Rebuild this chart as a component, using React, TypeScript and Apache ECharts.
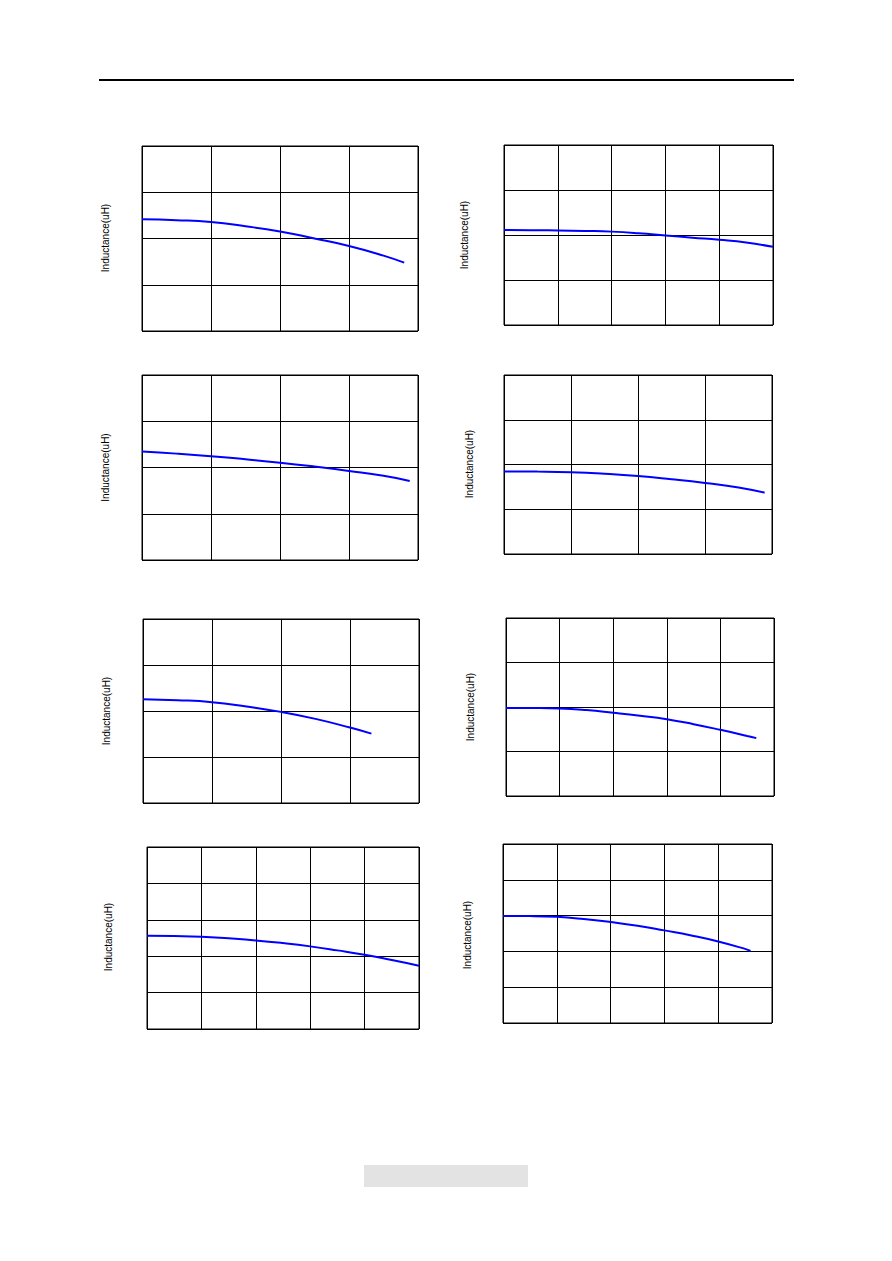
import React, { useEffect, useRef } from "react";
import * as echarts from "echarts";

// Each chart: x positions (in grid-column units) and inductance readings (in grid-row units)
const current1 = [0, 0.5, 1, 1.5, 2, 2.5, 3, 3.5, 3.8];
const induct1 = [2.415, 2.395, 2.355, 2.265, 2.152, 2.0, 1.838, 1.63, 1.477];

const current2 = [0, 0.5, 1, 1.5, 2, 2.5, 3, 3.5, 4, 4.5, 5];
const induct2 = [2.11, 2.108, 2.1, 2.09, 2.075, 2.04, 1.99, 1.94, 1.893, 1.833, 1.737];

const current3 = [0, 0.5, 1, 1.5, 2, 2.5, 3, 3.5, 3.88];
const induct3 = [2.344, 2.3, 2.245, 2.178, 2.105, 2.02, 1.925, 1.82, 1.71];

const current4 = [0, 0.5, 1, 1.5, 2, 2.5, 3, 3.5, 3.89];
const induct4 = [1.846, 1.842, 1.828, 1.794, 1.743, 1.67, 1.587, 1.488, 1.37];

const current5 = [0, 0.5, 1, 1.5, 2, 2.5, 3, 3.31];
const induct5 = [2.258, 2.236, 2.192, 2.097, 1.981, 1.829, 1.64, 1.509];

const current6 = [0, 0.5, 1, 1.5, 2, 2.5, 3, 3.5, 4, 4.5, 4.67];
const induct6 = [1.98, 1.978, 1.968, 1.932, 1.872, 1.805, 1.726, 1.614, 1.487, 1.35, 1.3];

const current7 = [0, 0.5, 1, 1.5, 2, 2.5, 3, 3.5, 4, 4.5, 5];
const induct7 = [2.563, 2.555, 2.536, 2.49, 2.434, 2.36, 2.27, 2.16, 2.04, 1.895, 1.74];

const current8 = [0, 0.5, 1, 1.5, 2, 2.5, 3, 3.5, 4, 4.5, 4.6];
const induct8 = [2.989, 2.986, 2.965, 2.905, 2.821, 2.718, 2.587, 2.447, 2.279, 2.07, 2.011];

const axisTitle = "Inductance(uH)";

const panels = [
  { xs: current1, ys: induct1, cols: 4, rows: 4, box: [142, 146, 276, 185], label: [105.5, 238] },
  { xs: current2, ys: induct2, cols: 5, rows: 4, box: [504, 145, 269, 180], label: [464, 235] },
  { xs: current3, ys: induct3, cols: 4, rows: 4, box: [142, 375, 276, 185], label: [105.5, 467.5] },
  { xs: current4, ys: induct4, cols: 4, rows: 4, box: [504, 375, 268, 179], label: [469, 464] },
  { xs: current5, ys: induct5, cols: 4, rows: 4, box: [143, 619, 276, 184], label: [106.3, 711] },
  { xs: current6, ys: induct6, cols: 5, rows: 4, box: [506, 618, 268, 178], label: [470.3, 707] },
  { xs: current7, ys: induct7, cols: 5, rows: 5, box: [147, 847, 272, 182], label: [108.8, 937] },
  { xs: current8, ys: induct8, cols: 5, rows: 5, box: [503, 844, 269, 179], label: [467.3, 935] },
];

export default function App() {
  const ref = useRef<HTMLDivElement>(null);
  useEffect(() => {
    if (!ref.current) return;
    const chart = echarts.init(ref.current, null, { renderer: "svg" });
    const grids: any[] = [];
    const xAxes: any[] = [];
    const yAxes: any[] = [];
    const series: any[] = [];
    const graphics: any[] = [];
    panels.forEach((p, i) => {
      const [l, t, w, h] = p.box;
      grids.push({ left: l, top: t, width: w, height: h, show: true, borderColor: "#000", borderWidth: 1, backgroundColor: "transparent" });
      const ax = {
        axisLine: { show: false },
        axisTick: { show: false },
        axisLabel: { show: false },
        splitLine: { show: true, lineStyle: { color: "#000", width: 1 } },
      };
      xAxes.push({ type: "value", gridIndex: i, min: 0, max: p.cols, interval: 1, ...ax });
      yAxes.push({ type: "value", gridIndex: i, min: 0, max: p.rows, interval: 1, ...ax });
      series.push({
        type: "line",
        xAxisIndex: i,
        yAxisIndex: i,
        data: p.xs.map((x, k) => [x, p.ys[k]]),
        smooth: 0.5,
        showSymbol: false,
        lineStyle: { color: "#0000ff", width: 2 },
        z: 5,
      });
      graphics.push({
        type: "text",
        x: p.label[0],
        y: p.label[1],
        rotation: Math.PI / 2,
        style: {
          text: axisTitle,
          fill: "#000",
          font: "10px 'Liberation Sans', Arial, sans-serif",
          textAlign: "center",
          textVerticalAlign: "middle",
        },
      });
    });
    graphics.push({ type: "rect", shape: { x: 99, y: 79, width: 695, height: 2 }, style: { fill: "#000" } });
    graphics.push({ type: "rect", shape: { x: 364, y: 1165, width: 164, height: 22 }, style: { fill: "#e3e3e3" } });
    chart.setOption({
      animation: false,
      backgroundColor: "#fff",
      grid: grids,
      xAxis: xAxes,
      yAxis: yAxes,
      series,
      graphic: graphics,
    });
    return () => chart.dispose();
  }, []);
  return <div ref={ref} style={{ position: "absolute", left: 0, top: 0, width: 892, height: 1261 }} />;
}
